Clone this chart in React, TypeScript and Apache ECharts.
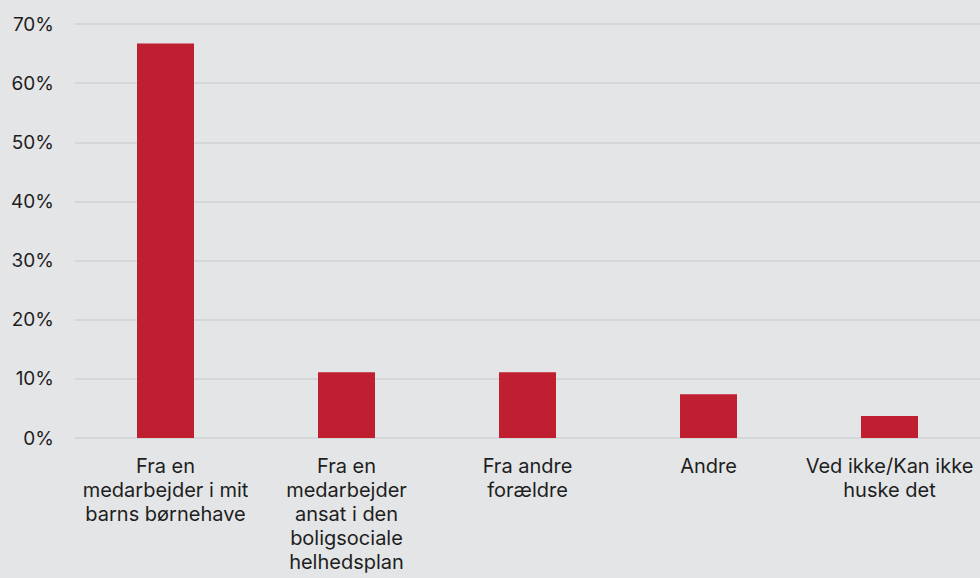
import React, { useEffect, useRef } from "react";
import * as echarts from "echarts";

const categories = [
  "Fra en\nmedarbejder i mit\nbarns børnehave",
  "Fra en\nmedarbejder\nansat i den\nboligsociale\nhelhedsplan",
  "Fra andre\nforældre",
  "Andre",
  "Ved ikke/Kan ikke\nhuske det",
];
const values = [66.7, 11.1, 11.1, 7.4, 3.7];
const yTicks = { min: 0, max: 70, interval: 10 };

export default function App() {
  const ref = useRef<HTMLDivElement>(null);
  useEffect(() => {
    if (!ref.current) return;
    const chart = echarts.init(ref.current, null, { renderer: "svg" });
    chart.setOption({
      animation: false,
      backgroundColor: "#e4e5e7",
      textStyle: { fontFamily: "Inter" },
      grid: { left: 75, right: 0, top: 24, bottom: 140 },
      xAxis: {
        type: "category",
        data: categories,
        axisLine: { show: false },
        axisTick: { show: false },
        axisLabel: {
          interval: 0,
          color: "#1e1e1e",
          fontSize: 20,
          lineHeight: 24,
          margin: 16,
          fontFamily: "Inter",
          align: "center",
        },
      },
      yAxis: {
        type: "value",
        min: yTicks.min,
        max: yTicks.max,
        interval: yTicks.interval,
        axisLine: { show: false },
        axisTick: { show: false },
        splitLine: { lineStyle: { color: "#d5d6d8", width: 2 } },
        axisLabel: {
          color: "#1e1e1e",
          fontSize: 19,
          margin: 21,
          fontFamily: "Inter",
          formatter: (v: number) => `${v}%`,
        },
      },
      series: [
        {
          type: "bar",
          data: values,
          barWidth: 57,
          itemStyle: { color: "#c01f32" },
        },
      ],
    });
    return () => chart.dispose();
  }, []);
  return (
    <div
      ref={ref}
      style={{ position: "fixed", left: 0, top: 0, width: 980, height: 578 }}
    />
  );
}
